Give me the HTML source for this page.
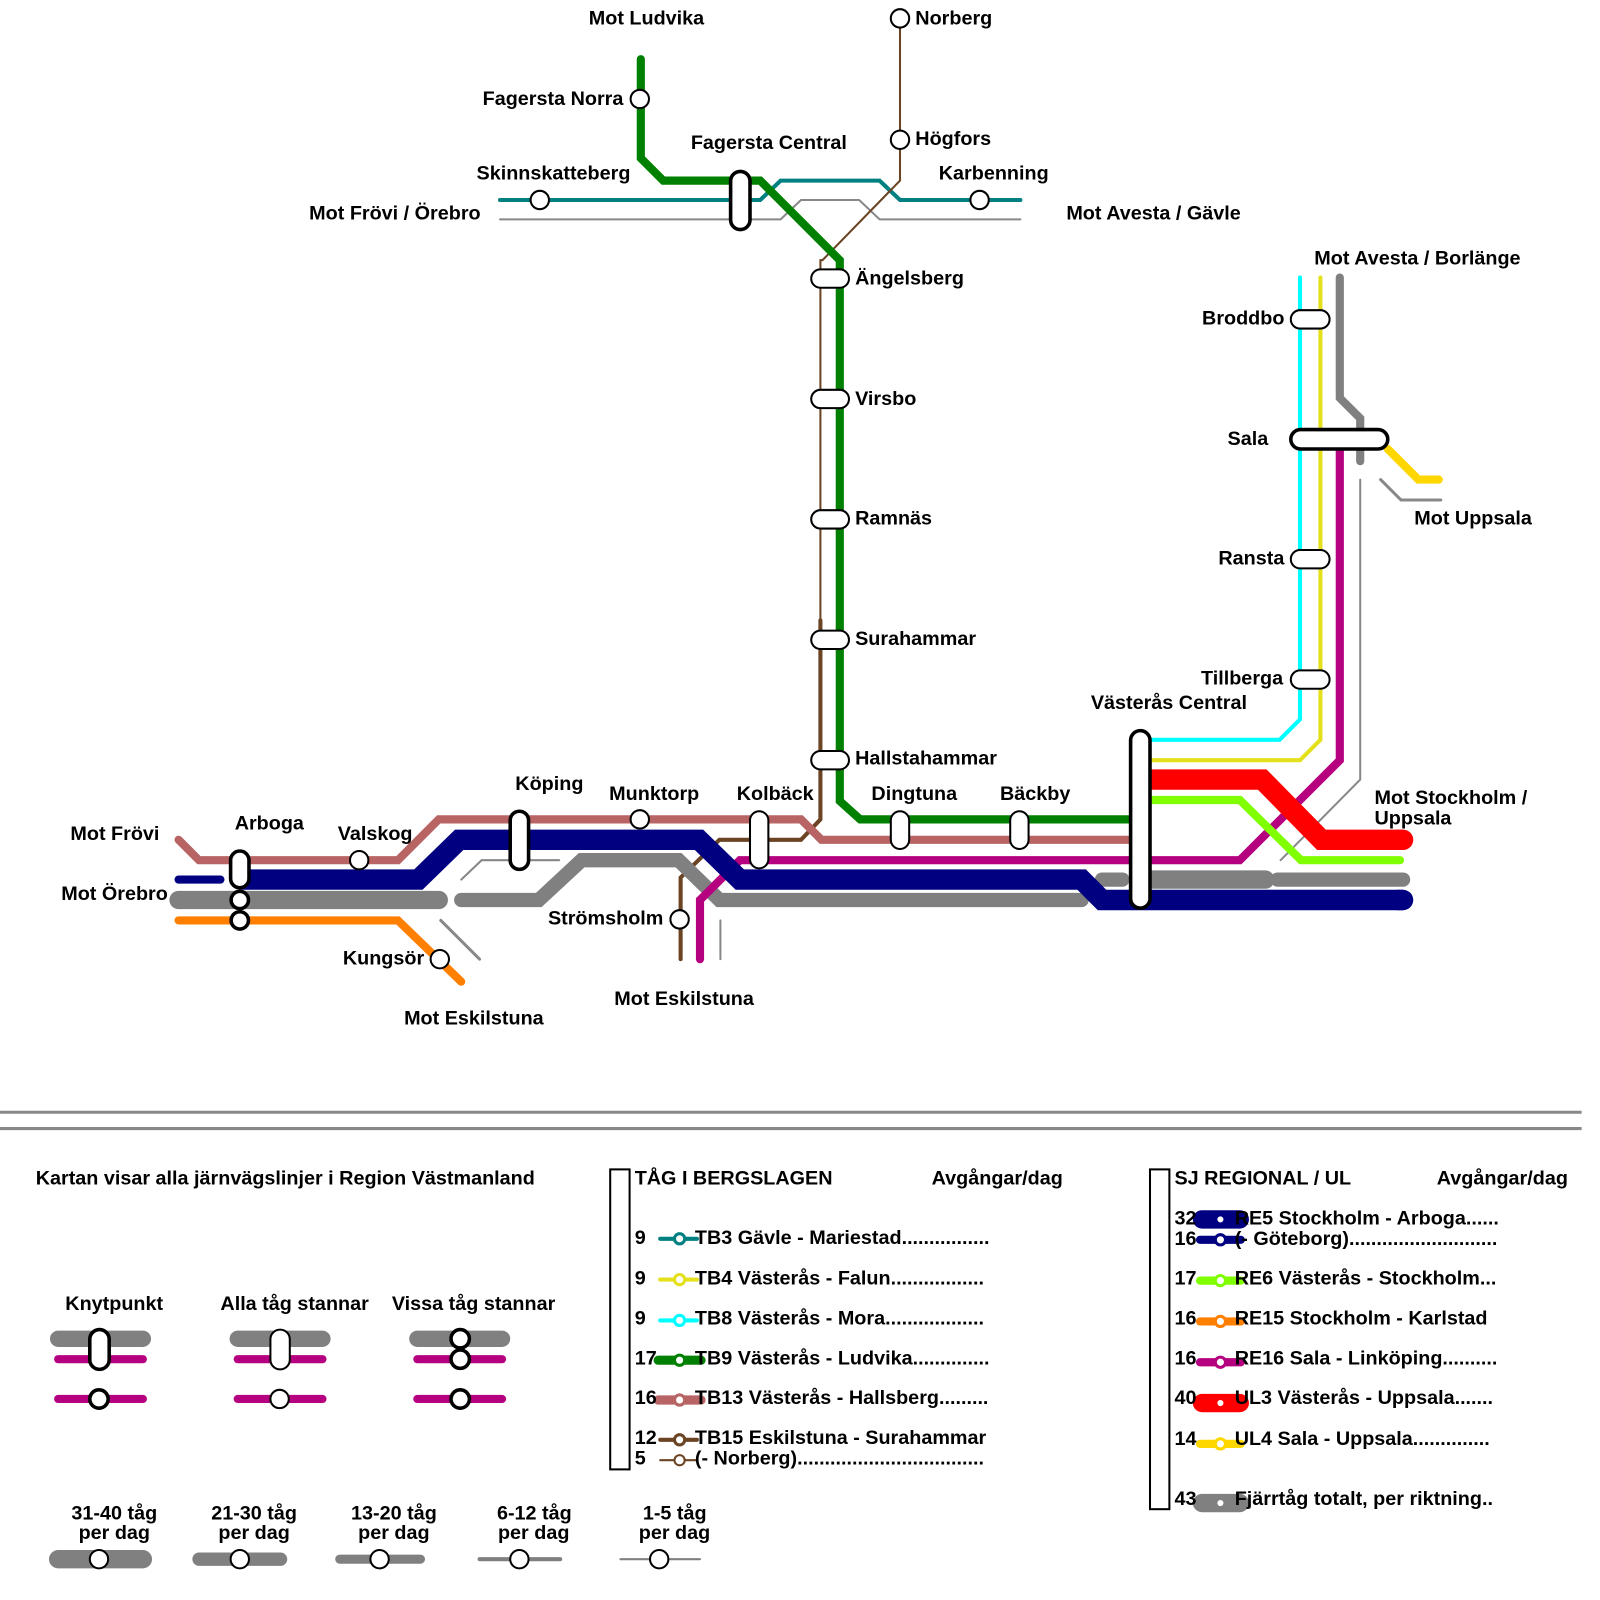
<!DOCTYPE html>
<html><head><meta charset="utf-8"><style>
html,body{margin:0;padding:0;background:#fff}
svg{display:block}
text{font-family:"Liberation Sans",Arial,sans-serif;font-weight:bold;font-size:19.4px;fill:#000}
</style></head><body>
<svg width="1600" height="1600" viewBox="0 0 1568 1568" xmlns="http://www.w3.org/2000/svg">
<g fill="none" stroke-linecap="round" stroke-linejoin="miter">
<polyline points="490,215 765,215 785,196 842,196 862,215 1000,215" stroke="#888" stroke-width="2"/>
<polyline points="452,862 472,843 548,843" stroke="#888" stroke-width="2"/>
<polyline points="432,902 470,940" stroke="#888" stroke-width="3"/>
<polyline points="706,902 706,940" stroke="#888" stroke-width="2"/>
<polyline points="1333,470 1333,764 1255,843" stroke="#888" stroke-width="2"/>
<polyline points="1353,470 1373,490 1412,490" stroke="#888" stroke-width="3"/>
<polyline points="490,196 745,196 765,177 862,177 882,196 1000,196" stroke="#008080" stroke-width="4"/>
<polyline points="882,18 882,177 806,255 804,255 804,608" stroke="#6b4423" stroke-width="2"/>
<polyline points="804,608 804,803 785,823 705,823 667,860 667,940" stroke="#6b4423" stroke-width="4"/>
<polyline points="628,58 628,155 650,177 745,177 823,255 823,785 843,803 1110,803" stroke="#008000" stroke-width="8"/>
<polyline points="175,823 195,843 390,843 430,803 785,803 805,823 1110,823" stroke="#b86464" stroke-width="8"/>
<polyline points="175,882 430,882" stroke="#808080" stroke-width="18"/>
<polyline points="452,882 528,882 570,843 665,843 705,882 1060,882" stroke="#808080" stroke-width="14"/>
<polyline points="1080,862 1100,862" stroke="#808080" stroke-width="14"/>
<polyline points="1130,862 1240,862" stroke="#808080" stroke-width="18"/>
<polyline points="1252,862 1375,862" stroke="#808080" stroke-width="14"/>
<polyline points="1313,272 1313,390 1333,410 1333,452" stroke="#808080" stroke-width="8"/>
<polyline points="1313,440 1313,745 1215,843 725,843 686,882 686,940" stroke="#b5007f" stroke-width="8"/>
<polyline points="175,862 216,862" stroke="#000080" stroke-width="8"/>
<polyline points="235,862 410,862 450,823 685,823 725,862 1060,862 1080,882 1375,882" stroke="#000080" stroke-width="20" stroke-linecap="butt"/>
<line x1="1370" y1="882" x2="1375" y2="882" stroke="#000080" stroke-width="20"/>
<polyline points="175,902 390,902 452,962" stroke="#ff8000" stroke-width="8"/>
<polyline points="1115,764 1237,764 1295,823 1375,823" stroke="#ff0000" stroke-width="20" stroke-linecap="butt"/>
<line x1="1370" y1="823" x2="1375" y2="823" stroke="#ff0000" stroke-width="20"/>
<polyline points="1115,784 1215,784 1275,843 1372,843" stroke="#80ff00" stroke-width="8"/>
<polyline points="1274,272 1274,705 1254,725 1120,725" stroke="#00ffff" stroke-width="4"/>
<polyline points="1294,272 1294,725 1274,745 1120,745" stroke="#e5e01c" stroke-width="4"/>
<polyline points="1360,440 1390,470 1410,470" stroke="#ffd700" stroke-width="8"/>
</g>
<g fill="#fff" stroke="#000" stroke-width="2">
<rect x="795" y="264" width="37" height="18" rx="9"/>
<rect x="795" y="382" width="37" height="18" rx="9"/>
<rect x="795" y="500" width="37" height="18" rx="9"/>
<rect x="795" y="618" width="37" height="18" rx="9"/>
<rect x="795" y="736" width="37" height="18" rx="9"/>
<rect x="1265" y="304" width="38" height="18" rx="9"/>
<rect x="1265" y="539" width="38" height="18" rx="9"/>
<rect x="1265" y="657" width="38" height="18" rx="9"/>
<rect x="735" y="795" width="18" height="56" rx="9"/>
<rect x="873" y="795" width="18" height="37" rx="9"/>
<rect x="990" y="795" width="18" height="37" rx="9"/>
<circle cx="627" cy="97" r="9"/><circle cx="529" cy="196" r="9"/><circle cx="960" cy="196" r="9"/>
<circle cx="882" cy="18" r="9"/><circle cx="882" cy="137" r="9"/><circle cx="352" cy="843" r="9"/>
<circle cx="627" cy="803" r="9"/><circle cx="431" cy="940" r="9"/><circle cx="666" cy="901" r="9"/>
</g>
<g fill="#fff" stroke="#000" stroke-width="3.5">
<rect x="1265" y="421" width="95" height="19" rx="9.5"/>
<rect x="1108" y="716" width="19" height="174" rx="9.5"/>
<rect x="716" y="168" width="19" height="57" rx="9.5"/>
<rect x="500" y="795" width="18" height="57" rx="9"/>
<rect x="226" y="834" width="18" height="36" rx="9"/>
<circle cx="235" cy="882" r="8.5"/><circle cx="235" cy="902" r="8.5"/>
</g>
<text x="577" y="24">Mot Ludvika</text>
<text x="897" y="24">Norberg</text>
<text x="473" y="103">Fagersta Norra</text>
<text x="677" y="146">Fagersta Central</text>
<text x="897" y="142">Högfors</text>
<text x="467" y="176">Skinnskatteberg</text>
<text x="920" y="176">Karbenning</text>
<text x="303" y="215">Mot Frövi / Örebro</text>
<text x="1045" y="215">Mot Avesta / Gävle</text>
<text x="1288" y="259">Mot Avesta / Borlänge</text>
<text x="838" y="279">Ängelsberg</text>
<text x="1178" y="318">Broddbo</text>
<text x="838" y="397">Virsbo</text>
<text x="1203" y="436">Sala</text>
<text x="838" y="514">Ramnäs</text>
<text x="1386" y="514">Mot Uppsala</text>
<text x="1194" y="553">Ransta</text>
<text x="838" y="632">Surahammar</text>
<text x="1177" y="671">Tillberga</text>
<text x="1069" y="695">Västerås Central</text>
<text x="838" y="749">Hallstahammar</text>
<text x="505" y="774">Köping</text>
<text x="597" y="784">Munktorp</text>
<text x="722" y="784">Kolbäck</text>
<text x="854" y="784">Dingtuna</text>
<text x="980" y="784">Bäckby</text>
<text x="1347" y="788">Mot Stockholm /</text>
<text x="1347" y="808">Uppsala</text>
<text x="230" y="813">Arboga</text>
<text x="69" y="823">Mot Frövi</text>
<text x="331" y="823">Valskog</text>
<text x="60" y="882">Mot Örebro</text>
<text x="537" y="906">Strömsholm</text>
<text x="336" y="945">Kungsör</text>
<text x="602" y="985">Mot Eskilstuna</text>
<text x="396" y="1004">Mot Eskilstuna</text>
<line x1="0" y1="1090" x2="1550" y2="1090" stroke="#888" stroke-width="3"/>
<line x1="0" y1="1106" x2="1550" y2="1106" stroke="#888" stroke-width="3"/>
<text x="35" y="1161">Kartan visar alla järnvägslinjer i Region Västmanland</text>
<text x="64" y="1284">Knytpunkt</text>
<text x="216" y="1284">Alla tåg stannar</text>
<text x="384" y="1284">Vissa tåg stannar</text>
<g fill="none" stroke-linecap="round">
<line x1="57" y1="1312" x2="140" y2="1312" stroke="#808080" stroke-width="16"/>
<line x1="57" y1="1332" x2="140" y2="1332" stroke="#b5007f" stroke-width="8"/>
<line x1="57" y1="1371" x2="140" y2="1371" stroke="#b5007f" stroke-width="8"/>
<line x1="233" y1="1312" x2="316" y2="1312" stroke="#808080" stroke-width="16"/>
<line x1="233" y1="1332" x2="316" y2="1332" stroke="#b5007f" stroke-width="8"/>
<line x1="233" y1="1371" x2="316" y2="1371" stroke="#b5007f" stroke-width="8"/>
<line x1="409" y1="1312" x2="492" y2="1312" stroke="#808080" stroke-width="16"/>
<line x1="409" y1="1332" x2="492" y2="1332" stroke="#b5007f" stroke-width="8"/>
<line x1="409" y1="1371" x2="492" y2="1371" stroke="#b5007f" stroke-width="8"/>
<line x1="57" y1="1528" x2="140" y2="1528" stroke="#808080" stroke-width="18"/>
<line x1="195" y1="1528" x2="275" y2="1528" stroke="#808080" stroke-width="13"/>
<line x1="333" y1="1528" x2="412" y2="1528" stroke="#808080" stroke-width="9"/>
<line x1="470" y1="1528" x2="549" y2="1528" stroke="#808080" stroke-width="4"/>
<line x1="608" y1="1528" x2="686" y2="1528" stroke="#808080" stroke-width="2"/>
</g>
<g fill="#fff" stroke="#000" stroke-width="3.5">
<rect x="88" y="1303" width="19" height="39" rx="9.5"/>
<circle cx="97" cy="1371" r="9"/>
<circle cx="451" cy="1312" r="9"/><circle cx="451" cy="1332" r="9"/><circle cx="451" cy="1371" r="9"/>
</g>
<g fill="#fff" stroke="#000" stroke-width="2">
<rect x="265" y="1303" width="19" height="39" rx="9.5"/>
<circle cx="274" cy="1371" r="9"/>
<circle cx="97" cy="1528" r="9"/><circle cx="235" cy="1528" r="9"/><circle cx="372" cy="1528" r="9"/><circle cx="509" cy="1528" r="9"/><circle cx="646" cy="1528" r="9"/>
</g>
<text x="70" y="1489">31-40 tåg</text><text x="77" y="1508">per dag</text>
<text x="207" y="1489">21-30 tåg</text><text x="214" y="1508">per dag</text>
<text x="344" y="1489">13-20 tåg</text><text x="351" y="1508">per dag</text>
<text x="487" y="1489">6-12 tåg</text><text x="488" y="1508">per dag</text>
<text x="630" y="1489">1-5 tåg</text><text x="626" y="1508">per dag</text>
<rect x="598" y="1146" width="19" height="294" fill="#fff" stroke="#000" stroke-width="2"/>
<text x="622" y="1161">TÅG I BERGSLAGEN</text>
<text x="913" y="1161">Avgångar/dag</text>
<g stroke-linecap="round" fill="#fff">
<line x1="647" y1="1214" x2="683" y2="1214" stroke="#008080" stroke-width="4"/><circle cx="666" cy="1214" r="5" stroke="#008080" stroke-width="3"/>
<line x1="647" y1="1254" x2="683" y2="1254" stroke="#e5e01c" stroke-width="4"/><circle cx="666" cy="1254" r="5" stroke="#e5e01c" stroke-width="3"/>
<line x1="647" y1="1294" x2="683" y2="1294" stroke="#00ffff" stroke-width="4"/><circle cx="666" cy="1294" r="5" stroke="#00ffff" stroke-width="3"/>
<line x1="645" y1="1333" x2="687" y2="1333" stroke="#008000" stroke-width="9"/><circle cx="666" cy="1333" r="5" stroke="#008000" stroke-width="3"/>
<line x1="645" y1="1372" x2="687" y2="1372" stroke="#b86464" stroke-width="9"/><circle cx="666" cy="1372" r="5" stroke="#b86464" stroke-width="3"/>
<line x1="647" y1="1411" x2="683" y2="1411" stroke="#6b4423" stroke-width="4"/><circle cx="666" cy="1411" r="5" stroke="#6b4423" stroke-width="3"/>
<line x1="647" y1="1431" x2="683" y2="1431" stroke="#6b4423" stroke-width="2"/><circle cx="666" cy="1431" r="5" stroke="#6b4423" stroke-width="2"/>
</g>
<text x="622" y="1219">9</text><text x="681" y="1219">TB3 Gävle - Mariestad................</text>
<text x="622" y="1259">9</text><text x="681" y="1259">TB4 Västerås - Falun.................</text>
<text x="622" y="1298">9</text><text x="681" y="1298">TB8 Västerås - Mora..................</text>
<text x="622" y="1337">17</text><text x="681" y="1337">TB9 Västerås - Ludvika..............</text>
<text x="622" y="1376">16</text><text x="681" y="1376">TB13 Västerås - Hallsberg.........</text>
<text x="622" y="1415">12</text><text x="681" y="1415">TB15 Eskilstuna - Surahammar</text>
<text x="622" y="1435">5</text><text x="681" y="1435">(- Norberg)..................................</text>
<rect x="1127" y="1146" width="19" height="333" fill="#fff" stroke="#000" stroke-width="2"/>
<text x="1151" y="1161">SJ REGIONAL / UL</text>
<text x="1408" y="1161">Avgångar/dag</text>
<g stroke-linecap="round" fill="#fff">
<line x1="1178" y1="1195" x2="1215" y2="1195" stroke="#000080" stroke-width="18"/><circle cx="1196" cy="1195" r="3" fill="#fff" stroke="none"/>
<line x1="1176" y1="1215" x2="1216" y2="1215" stroke="#000080" stroke-width="8"/><circle cx="1196" cy="1215" r="5" stroke="#000080" stroke-width="3"/>
<line x1="1176" y1="1255" x2="1216" y2="1255" stroke="#80ff00" stroke-width="8"/><circle cx="1196" cy="1255" r="5" stroke="#80ff00" stroke-width="3"/>
<line x1="1176" y1="1295" x2="1216" y2="1295" stroke="#ff8000" stroke-width="8"/><circle cx="1196" cy="1295" r="5" stroke="#ff8000" stroke-width="3"/>
<line x1="1176" y1="1335" x2="1216" y2="1335" stroke="#b5007f" stroke-width="8"/><circle cx="1196" cy="1335" r="5" stroke="#b5007f" stroke-width="3"/>
<line x1="1178" y1="1375" x2="1215" y2="1375" stroke="#ff0000" stroke-width="18"/><circle cx="1196" cy="1375" r="3" fill="#fff" stroke="none"/>
<line x1="1176" y1="1415" x2="1216" y2="1415" stroke="#ffd700" stroke-width="8"/><circle cx="1196" cy="1415" r="5" stroke="#ffd700" stroke-width="3"/>
<line x1="1178" y1="1473" x2="1215" y2="1473" stroke="#808080" stroke-width="18"/><circle cx="1196" cy="1473" r="3" fill="#fff" stroke="none"/>
</g>
<text x="1151" y="1200">32</text><text x="1210" y="1200">RE5 Stockholm - Arboga......</text>
<text x="1151" y="1220">16</text><text x="1210" y="1220">(- Göteborg)...........................</text>
<text x="1151" y="1259">17</text><text x="1210" y="1259">RE6 Västerås - Stockholm...</text>
<text x="1151" y="1298">16</text><text x="1210" y="1298">RE15 Stockholm - Karlstad</text>
<text x="1151" y="1337">16</text><text x="1210" y="1337">RE16 Sala - Linköping..........</text>
<text x="1151" y="1376">40</text><text x="1210" y="1376">UL3 Västerås - Uppsala.......</text>
<text x="1151" y="1416">14</text><text x="1210" y="1416">UL4 Sala - Uppsala..............</text>
<text x="1151" y="1475">43</text><text x="1210" y="1475">Fjärrtåg totalt, per riktning..</text>
</svg>
</body></html>
